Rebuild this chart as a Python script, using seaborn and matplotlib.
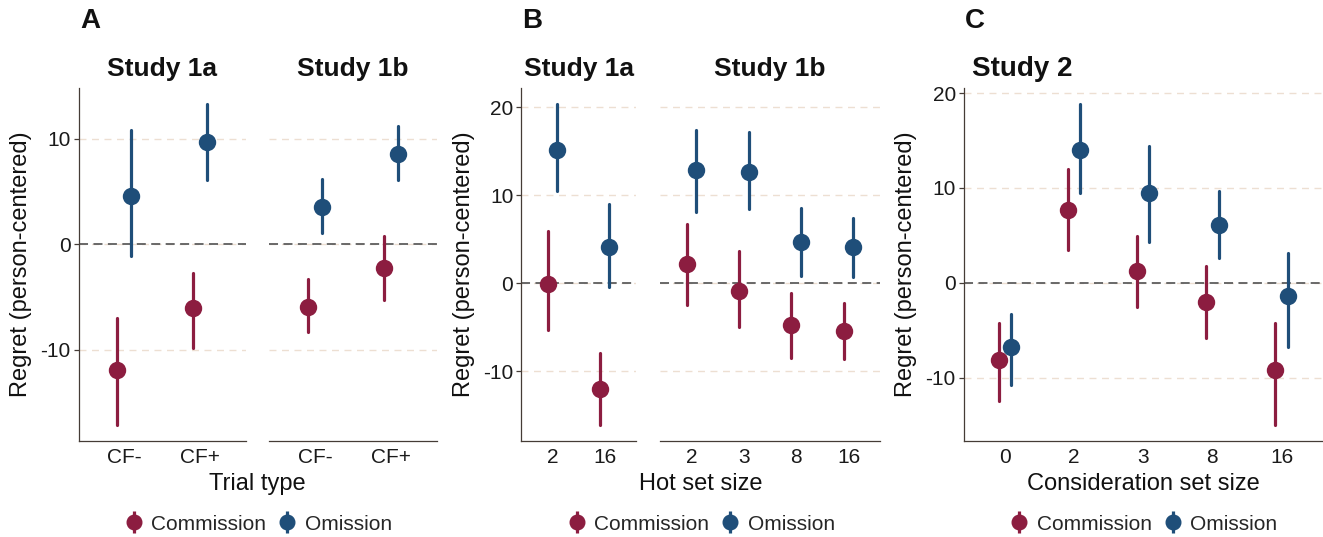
import numpy as np
import pandas as pd
import matplotlib
matplotlib.use('Agg')
import matplotlib.pyplot as plt
from matplotlib.lines import Line2D
import seaborn as sns

# Panel A - trial type
a_cats = ['CF-', 'CF+']
a1a_com = [-11.9, -6.0]
a1a_com_lo = [-17.1, -9.8]
a1a_com_hi = [-7.0, -2.7]
a1a_om = [4.55, 9.7]
a1a_om_lo = [-1.1, 6.1]
a1a_om_hi = [10.85, 13.3]

a1b_com = [-5.9, -2.2]
a1b_com_lo = [-8.3, -5.3]
a1b_com_hi = [-3.3, 0.8]
a1b_om = [3.55, 8.6]
a1b_om_lo = [1.1, 6.05]
a1b_om_hi = [6.15, 11.2]

# Panel B - hot set size
b1a_cats = ['2', '16']
b1a_com = [-0.1, -12.0]
b1a_com_lo = [-5.3, -16.1]
b1a_com_hi = [5.9, -7.9]
b1a_om = [15.1, 4.15]
b1a_om_lo = [10.5, -0.5]
b1a_om_hi = [20.35, 8.95]

b1b_cats = ['2', '3', '8', '16']
b1b_com = [2.15, -0.85, -4.75, -5.5]
b1b_com_lo = [-2.5, -5.0, -8.55, -8.6]
b1b_com_hi = [6.7, 3.6, -1.15, -2.25]
b1b_om = [12.8, 12.65, 4.65, 4.15]
b1b_om_lo = [8.1, 8.45, 0.85, 0.7]
b1b_om_hi = [17.45, 17.15, 8.5, 7.35]

# Panel C - consideration set size
c_cats = ['0', '2', '3', '8', '16']
c_com = [-8.15, 7.65, 1.25, -2.0, -9.2]
c_com_lo = [-12.5, 3.5, -2.5, -5.8, -14.95]
c_com_hi = [-4.2, 11.95, 4.95, 1.8, -4.2]
c_om = [-6.8, 14.0, 9.5, 6.05, -1.35]
c_om_lo = [-10.75, 9.45, 4.3, 2.65, -6.75]
c_om_hi = [-3.25, 18.85, 14.45, 9.7, 3.15]

TYPES = ['Commission', 'Omission']
COLORS = {'Commission': '#8C1D40', 'Omission': '#1F4E79'}
AXIS_COLOR = '#453C36'

sns.set_style('white')
plt.rcParams['font.family'] = ['Liberation Sans', 'DejaVu Sans']
plt.rcParams['axes.unicode_minus'] = False

W, H = 1323, 537
fig = plt.figure(figsize=(W / 100, H / 100), dpi=100)


def long_df(cats, com, com_lo, com_hi, om, om_lo, om_hi):
    # tres filas por punto: límite inferior, centro, límite superior
    rows = []
    for i, c in enumerate(cats):
        for v in (com_lo[i], com[i], com_hi[i]):
            rows.append({'cat': c, 'type': 'Commission', 'value': v})
        for v in (om_lo[i], om[i], om_hi[i]):
            rows.append({'cat': c, 'type': 'Omission', 'value': v})
    return pd.DataFrame(rows)


def ggplot_lim(*arrays):
    lo = min(min(a) for a in arrays)
    hi = max(max(a) for a in arrays)
    pad = (hi - lo) * 0.05
    return lo - pad, hi + pad


def make_ax(x0, x1):
    top, bottom = 88, 440.7
    return fig.add_axes([x0 / W, 1 - bottom / H, (x1 - x0) / W, (bottom - top) / H])


def draw_facet(ax, df, cats, ylim, yticks, show_y):
    ax.set_axisbelow(True)
    for t in yticks:
        ax.axhline(t, color='#EDDFD2', lw=1.0, ls=(0, (5, 4)), zorder=0)
    ax.axhline(0, color='#5E5E5E', lw=1.3, ls=(0, (5, 3)), zorder=1)
    sns.pointplot(data=df, x='cat', y='value', hue='type', order=cats, hue_order=TYPES,
                  palette=COLORS, estimator='median',
                  errorbar=lambda v: (v.min(), v.max()),
                  dodge=0.18, linestyle='none', markers='o', markersize=10.5,
                  err_kws={'linewidth': 2.3}, legend=False, ax=ax)
    ax.set_xlim(-0.6, len(cats) - 0.4)
    ax.set_ylim(*ylim)
    ax.set_yticks(yticks)
    ax.set_xlabel('')
    ax.set_ylabel('')
    for s in ['top', 'right']:
        ax.spines[s].set_visible(False)
    ax.spines['bottom'].set_color(AXIS_COLOR)
    ax.spines['bottom'].set_linewidth(0.9)
    ax.tick_params(axis='x', length=3.5, width=0.9, color=AXIS_COLOR, pad=2,
                   labelsize=15, labelcolor='#1A1A1A')
    if show_y:
        ax.spines['left'].set_color(AXIS_COLOR)
        ax.spines['left'].set_linewidth(0.9)
        ax.tick_params(axis='y', length=3.5, width=0.9, color=AXIS_COLOR, pad=2,
                       labelsize=15, labelcolor='#1A1A1A', left=True)
    else:
        ax.spines['left'].set_visible(False)
        ax.tick_params(axis='y', left=False, labelleft=False)


def top_text(x, y_px, s, size, ha='center'):
    fig.text(x / W, 1 - y_px / H, s, fontsize=size, fontweight='bold', ha=ha,
             va='baseline', color='#111111')


def bottom_texts(xc, ylab_x, xlabel):
    fig.text(ylab_x / W, 1 - 264.4 / H, 'Regret (person-centered)', rotation=90,
             fontsize=17, ha='center', va='center', color='#111111')
    fig.text(xc / W, 1 - 484 / H, xlabel, fontsize=17, ha='center', va='center',
             color='#111111')
    handles = []
    for t in TYPES:
        bar = Line2D([], [], color=COLORS[t], marker='|', markersize=16,
                     markeredgewidth=2.3, linestyle='none')
        dot = Line2D([], [], color=COLORS[t], marker='o', markersize=10.5,
                     linestyle='none')
        handles.append((bar, dot))
    fig.legend(handles, TYPES, loc='center', bbox_to_anchor=(xc / W, 1 - 524 / H),
               ncol=2, frameon=False, fontsize=15, handlelength=1.0,
               handletextpad=0.35, columnspacing=0.5)


# Panel A
df_a1a = long_df(a_cats, a1a_com, a1a_com_lo, a1a_com_hi, a1a_om, a1a_om_lo, a1a_om_hi)
df_a1b = long_df(a_cats, a1b_com, a1b_com_lo, a1b_com_hi, a1b_om, a1b_om_lo, a1b_om_hi)
ylim_a = ggplot_lim(df_a1a['value'], df_a1b['value'])
ax = make_ax(78.5, 246)
draw_facet(ax, df_a1a, a_cats, ylim_a, [-10, 0, 10], True)
ax = make_ax(269, 437)
draw_facet(ax, df_a1b, a_cats, ylim_a, [-10, 0, 10], False)
top_text(80, 28, 'A', 20, ha='left')
top_text(162, 76.2, 'Study 1a', 19)
top_text(353, 76.2, 'Study 1b', 19)
bottom_texts(257.7, 21, 'Trial type')

# Panel B
df_b1a = long_df(b1a_cats, b1a_com, b1a_com_lo, b1a_com_hi, b1a_om, b1a_om_lo, b1a_om_hi)
df_b1b = long_df(b1b_cats, b1b_com, b1b_com_lo, b1b_com_hi, b1b_om, b1b_om_lo, b1b_om_hi)
ylim_b = ggplot_lim(df_b1a['value'], df_b1b['value'])
ax = make_ax(521, 636)
draw_facet(ax, df_b1a, b1a_cats, ylim_b, [-10, 0, 10, 20], True)
ax = make_ax(660, 880)
draw_facet(ax, df_b1b, b1b_cats, ylim_b, [-10, 0, 10, 20], False)
top_text(522, 28, 'B', 20, ha='left')
top_text(578.5, 76.2, 'Study 1a', 19)
top_text(770, 76.2, 'Study 1b', 19)
bottom_texts(700.5, 464, 'Hot set size')

# Panel C
df_c = long_df(c_cats, c_com, c_com_lo, c_com_hi, c_om, c_om_lo, c_om_hi)
ylim_c = ggplot_lim(df_c['value'])
ax = make_ax(963.5, 1323)
draw_facet(ax, df_c, c_cats, ylim_c, [-10, 0, 10, 20], True)
top_text(965, 28, 'C', 20, ha='left')
top_text(972, 76.2, 'Study 2', 20, ha='left')
bottom_texts(1143, 906, 'Consideration set size')

fig.savefig('out.png', dpi=100)
